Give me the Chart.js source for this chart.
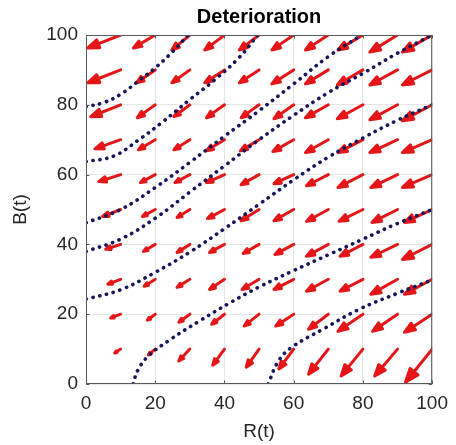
<!DOCTYPE html>
<html>
<head>
<meta charset="utf-8">
<script src="https://cdn.jsdelivr.net/npm/chart.js@4.4.0/dist/chart.umd.min.js"></script>
<style>
  html, body { margin: 0; padding: 0; background: #fff; }
</style>
</head>
<body>
<canvas id="chart" width="456" height="445"></canvas>
<script>
// Quiver grid: arrow tails at every (R, B) pair
const rCols = [10, 20, 30, 40, 50, 60, 70, 80, 90, 100];
const bRows = [100, 90, 80, 70, 60, 50, 40, 30, 20, 10];

// Arrow components in axis units, one row per B value (top row first)
const dR = [
  [-9.5, -6.3, -5.2, -5.7, -5.7, -6.3, -6.6, -7.2, -8.0, -8.6],
  [-9.5, -5.4, -5.2, -5.7, -5.7, -6.3, -6.6, -7.4, -8.0, -8.6],
  [-8.6, -5.2, -4.6, -5.2, -5.2, -5.7, -6.6, -7.4, -8.0, -8.6],
  [-7.4, -4.9, -4.6, -5.2, -5.4, -6.0, -6.6, -7.2, -8.0, -8.6],
  [-6.3, -4.3, -4.3, -5.2, -5.2, -5.7, -6.3, -7.2, -7.7, -8.6],
  [-5.2, -3.7, -3.7, -4.9, -5.2, -5.7, -6.3, -6.9, -7.4, -8.0],
  [-4.3, -3.4, -3.7, -4.3, -4.6, -5.4, -6.3, -6.6, -7.7, -8.6],
  [-3.7, -3.2, -3.7, -4.3, -4.9, -5.7, -6.3, -6.6, -7.7, -8.0],
  [-2.9, -2.3, -3.2, -3.7, -4.3, -5.2, -5.7, -7.2, -7.2, -8.0],
  [-1.7, -2.0, -3.2, -3.4, -3.7, -4.3, -5.7, -6.3, -6.6, -7.7]
];
const dB = [
  [-3.7, -3.7, -4.3, -4.3, -4.3, -4.3, -4.3, -4.3, -4.9, -4.9],
  [-3.7, -3.7, -3.7, -3.7, -3.7, -4.0, -4.0, -4.3, -4.3, -4.3],
  [-3.4, -3.7, -3.4, -3.7, -3.7, -4.0, -3.7, -4.0, -4.3, -4.6],
  [-2.6, -2.9, -2.9, -3.2, -3.2, -3.4, -3.7, -3.7, -3.7, -3.7],
  [-2.0, -2.3, -2.3, -2.3, -2.9, -2.6, -3.2, -3.7, -3.7, -3.7],
  [-2.0, -2.0, -2.3, -2.6, -3.2, -3.2, -3.4, -3.4, -3.7, -3.7],
  [-1.4, -2.0, -2.3, -2.3, -2.6, -2.9, -3.4, -3.4, -3.7, -4.3],
  [-1.4, -2.0, -2.3, -2.9, -2.9, -2.9, -3.4, -3.4, -4.3, -4.3],
  [-1.1, -1.7, -2.3, -2.9, -3.4, -3.4, -4.3, -4.9, -4.9, -5.2],
  [-1.1, -1.7, -3.4, -4.6, -5.2, -5.7, -7.2, -7.7, -7.7, -9.5]
];

// Trajectories as [R, B] points
const traj1 = [[0, 79.5], [5, 80.6], [10, 83], [15, 86.7], [20, 90.6], [25, 95.2], [29.5, 100]];
const traj2 = [[0, 63.7], [8, 65.3], [15, 69.8], [22, 75], [30, 81.5], [37, 87], [44, 93.3], [49.7, 100]];
const traj3 = [[0, 46.2], [10, 50], [20, 56.3], [30, 63.5], [40, 71], [50, 78.3], [60, 86], [70, 93.8], [79.6, 100]];
const traj4 = [[0, 38], [10, 41.5], [20, 47.5], [30, 55], [40, 62.5], [50, 70], [60, 77], [70, 83.5], [80, 89], [90, 94.8], [100, 100]];
const traj5 = [[0, 24.3], [10, 27], [20, 32], [30, 37.8], [40, 44.5], [50, 51.5], [60, 58.5], [70, 65], [80, 70.5], [90, 75.6], [100, 80]];
const traj6 = [[13.6, 0], [15, 4], [18, 8], [24, 12.5], [33, 18.2], [42, 23.5], [50, 27.8], [60, 32.5], [70, 37], [80, 41.5], [90, 46], [100, 50]];
const traj7 = [[52.6, 0], [55.6, 6.6], [59.4, 10.5], [69, 16], [78.5, 21.2], [90, 26], [100, 29.8]];

const trajectories = [traj1, traj2, traj3, traj4, traj5, traj6, traj7];

const xTicks = [0, 20, 40, 60, 80, 100];
const yTicks = [0, 20, 40, 60, 80, 100];

const FONT = '"Liberation Sans", Arial, Helvetica, sans-serif';
const AXIS_COLOR = '#262626';

function drawArrow(ctx, x0, y0, x1, y1) {
  const len = Math.hypot(x1 - x0, y1 - y0);
  if (len < 0.5) return;
  const ux = (x1 - x0) / len, uy = (y1 - y0) / len;
  const head = 0.32 * len;
  const half = 0.12 * len;
  const bx = x1 - ux * head, by = y1 - uy * head;

  ctx.beginPath();
  ctx.moveTo(x0, y0);
  ctx.lineTo(x1 - ux * head * 0.5, y1 - uy * head * 0.5);
  ctx.stroke();

  ctx.beginPath();
  ctx.moveTo(x1, y1);
  ctx.lineTo(bx - uy * half, by + ux * half);
  ctx.lineTo(bx + uy * half, by - ux * half);
  ctx.closePath();
  ctx.fill();
  ctx.stroke();
}

// red arrows go under the trajectories
const quiverPlugin = {
  id: 'quiver',
  beforeDatasetsDraw(chart) {
    const { ctx, chartArea: a, scales: { x, y } } = chart;
    ctx.save();
    ctx.beginPath();
    ctx.rect(a.left, a.top, a.right - a.left, a.bottom - a.top);
    ctx.clip();
    ctx.strokeStyle = 'rgb(228, 22, 24)';
    ctx.fillStyle = 'rgb(228, 22, 24)';
    ctx.lineWidth = 3;
    ctx.lineCap = 'round';
    ctx.lineJoin = 'round';
    bRows.forEach((b, i) => {
      rCols.forEach((r, j) => {
        drawArrow(ctx,
          x.getPixelForValue(r), y.getPixelForValue(b),
          x.getPixelForValue(r + dR[i][j]), y.getPixelForValue(b + dB[i][j]));
      });
    });
    ctx.restore();
  }
};

// axis box, inward ticks, title and axis labels
const framePlugin = {
  id: 'frame',
  afterDraw(chart) {
    const { ctx, chartArea: a, scales: { x, y } } = chart;
    ctx.save();
    ctx.strokeStyle = '#5a5a5a';
    ctx.lineWidth = 1;
    ctx.strokeRect(a.left + 0.5, a.top + 0.5, a.right - a.left - 1, a.bottom - a.top - 1);

    ctx.beginPath();
    const tl = 3.5;
    xTicks.forEach(v => {
      const px = Math.round(x.getPixelForValue(v)) + 0.5;
      ctx.moveTo(px, a.bottom); ctx.lineTo(px, a.bottom - tl);
      ctx.moveTo(px, a.top); ctx.lineTo(px, a.top + tl);
    });
    yTicks.forEach(v => {
      const py = Math.round(y.getPixelForValue(v)) + 0.5;
      ctx.moveTo(a.left, py); ctx.lineTo(a.left + tl, py);
      ctx.moveTo(a.right, py); ctx.lineTo(a.right - tl, py);
    });
    ctx.stroke();

    ctx.fillStyle = '#000';
    ctx.textAlign = 'center';
    ctx.textBaseline = 'middle';
    ctx.font = 'bold 20px ' + FONT;
    ctx.fillText('Deterioration', (a.left + a.right) / 2, 17);

    ctx.fillStyle = AXIS_COLOR;
    ctx.font = '19px ' + FONT;
    ctx.fillText('R(t)', (a.left + a.right) / 2, 432);

    ctx.translate(21, (a.top + a.bottom) / 2);
    ctx.rotate(-Math.PI / 2);
    ctx.fillText('B(t)', 0, 0);
    ctx.restore();
  }
};

const datasets = trajectories.map(t => ({
  data: t.map(p => ({ x: p[0], y: p[1] })),
  showLine: true,
  borderColor: 'rgb(22, 22, 92)',
  borderWidth: 3.6,
  borderDash: [0.2, 6.8],
  borderCapStyle: 'round',
  tension: 0.4,
  pointRadius: 0,
  fill: false
}));

new Chart(document.getElementById('chart'), {
  type: 'scatter',
  data: { datasets },
  options: {
    responsive: false,
    animation: false,
    devicePixelRatio: 1,
    layout: { padding: { top: 35, right: 21, left: 0, bottom: 0 } },
    plugins: { legend: { display: false }, tooltip: { enabled: false } },
    scales: {
      x: {
        type: 'linear', min: 0, max: 100,
        afterFit: s => { s.height = 61; },
        afterBuildTicks: s => { s.ticks = xTicks.map(v => ({ value: v })); },
        grid: { color: 'rgba(0,0,0,0.10)', drawTicks: false },
        border: { display: false },
        ticks: { padding: 8, color: AXIS_COLOR, font: { family: FONT, size: 19 } }
      },
      y: {
        type: 'linear', min: 0, max: 100,
        afterFit: s => { s.width = 86; },
        afterBuildTicks: s => { s.ticks = yTicks.map(v => ({ value: v })); },
        grid: { color: 'rgba(0,0,0,0.10)', drawTicks: false },
        border: { display: false },
        ticks: { padding: 8, color: AXIS_COLOR, font: { family: FONT, size: 19 } }
      }
    }
  },
  plugins: [quiverPlugin, framePlugin]
});
</script>
</body>
</html>
